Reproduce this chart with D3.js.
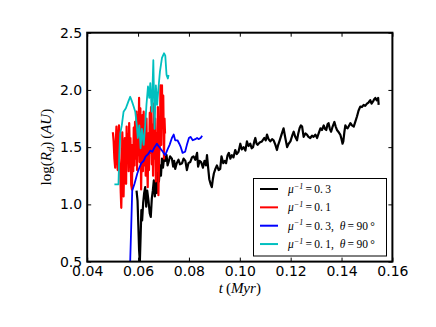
<!DOCTYPE html>
<html>
<head>
<meta charset="utf-8">
<script src="https://cdn.jsdelivr.net/npm/d3@7"></script>
<style>
  body { margin: 0; background: #fff; }
</style>
</head>
<body>
<div id="chart"></div>
<script>
// ---- data ----
var xTicks = [0.04, 0.06, 0.08, 0.10, 0.12, 0.14, 0.16];
var yTicks = [0.5, 1.0, 1.5, 2.0, 2.5];

var seriesMu = ["0.3", "0.1", "0.3", "0.1"];
var seriesTheta = [null, null, "90", "90"];
var seriesColors = ["#000000", "#ff0000", "#0000ff", "#00bfbf"];

// mu^-1 = 0.3
var blackT = [0.0594,0.0598,0.0601,0.0604,0.0607,0.0610,0.0613,0.0616,0.0620,0.0624,0.0628,0.0632,0.0636,0.0641,0.0646,0.0650,
  0.0654,0.0658,0.0662,0.0666,0.0670,0.0674,0.0678,0.0682,0.0686,0.0690,0.0694,0.0698,0.0703,0.0707,0.0712,0.0716,
  0.0720,0.0726,0.0733,0.0738,0.0742,0.0746,0.0752,0.0759,0.0765,0.0773,0.0779,0.0786,0.0792,0.0798,0.0805,0.0812,
  0.0818,0.0825,0.0832,0.0836,0.0842,0.0848,0.0855,0.0861,0.0867,0.0871,0.0876,0.0880,0.0885,0.0890,0.0894,0.0898,
  0.0904,0.0910,0.0917,0.0923,0.0928,0.0935,0.0941,0.0946,0.0952,0.0957,0.0963,0.0969,0.0975,0.0982,0.0988,0.0995,
  0.1002,0.1008,0.1015,0.1022,0.1028,0.1034,0.1041,0.1047,0.1052,0.1057,0.1061,0.1066,0.1070,0.1078,0.1087,0.1096,
  0.1102,0.1107,0.1113,0.1120,0.1127,0.1133,0.1140,0.1146,0.1151,0.1157,0.1164,0.1172,0.1179,0.1186,0.1192,0.1199,
  0.1206,0.1212,0.1218,0.1225,0.1230,0.1235,0.1240,0.1245,0.1251,0.1258,0.1264,0.1270,0.1277,0.1284,0.1290,0.1297,
  0.1304,0.1310,0.1317,0.1323,0.1330,0.1335,0.1340,0.1345,0.1349,0.1354,0.1359,0.1365,0.1372,0.1377,0.1382,0.1389,
  0.1395,0.1400,0.1404,0.1407,0.1411,0.1415,0.1420,0.1424,0.1430,0.1435,0.1441,0.1448,0.1454,0.1461,0.1467,0.1474,
  0.1480,0.1487,0.1493,0.1500,0.1506,0.1513,0.1518,0.1524,0.1529,0.1533,0.1538,0.1542,0.1544,0.1546];
var blackR = [1.12,1.03,0.82,0.60,0.50,0.72,0.95,0.86,1.01,1.10,1.15,0.98,1.12,1.03,0.92,0.89,
  1.05,1.12,1.21,1.07,1.19,1.10,1.28,1.20,1.34,1.25,1.40,1.32,1.42,1.38,1.43,1.34,
  1.37,1.42,1.40,1.33,1.38,1.31,1.36,1.39,1.35,1.36,1.40,1.38,1.30,1.36,1.37,1.41,
  1.42,1.39,1.45,1.33,1.38,1.37,1.32,1.38,1.34,1.43,1.31,1.22,1.18,1.15,1.22,1.27,
  1.31,1.34,1.30,1.31,1.42,1.36,1.38,1.36,1.43,1.45,1.40,1.43,1.41,1.475,1.44,1.46,
  1.53,1.48,1.50,1.47,1.55,1.51,1.53,1.49,1.50,1.55,1.58,1.53,1.52,1.54,1.55,1.58,
  1.56,1.61,1.57,1.55,1.57,1.56,1.52,1.475,1.52,1.56,1.61,1.665,1.58,1.50,1.53,1.55,
  1.60,1.635,1.59,1.56,1.62,1.665,1.69,1.68,1.59,1.62,1.61,1.59,1.58,1.60,1.59,1.61,
  1.58,1.62,1.665,1.65,1.69,1.66,1.65,1.70,1.71,1.66,1.635,1.68,1.72,1.68,1.65,1.63,
  1.61,1.57,1.53,1.55,1.63,1.69,1.67,1.665,1.69,1.71,1.69,1.68,1.72,1.77,1.82,1.855,
  1.85,1.87,1.86,1.88,1.89,1.91,1.88,1.90,1.92,1.93,1.91,1.92,1.93,1.87];

// mu^-1 = 0.1
var redT = [0.0501,0.0504,0.0507,0.0510,0.0512,0.0515,0.0517,0.0520,0.0522,0.0525,0.0527,0.0530,0.0532,0.0534,0.0536,0.0538,
  0.0541,0.0543,0.0545,0.0548,0.0550,0.0553,0.0555,0.0558,0.0560,0.0563,0.0565,0.0568,0.0570,0.0573,0.0576,0.0578,
  0.0581,0.0583,0.0586,0.0588,0.0591,0.0594,0.0596,0.0599,0.0601,0.0604,0.0606,0.0609,0.0612,0.0614,0.0617,0.0619,
  0.0622,0.0625,0.0627,0.0630,0.0633,0.0635,0.0638,0.0640,0.0643,0.0646,0.0648,0.0651,0.0654,0.0656,0.0659,0.0662,
  0.0664,0.0667,0.0670,0.0672,0.0675,0.0678,0.0680,0.0683,0.0686,0.0688,0.0691,0.0694,0.0696,0.0699,0.0702,0.0704,0.0706];
var redR = [1.63,1.55,1.40,1.32,1.52,1.68,1.45,1.30,1.55,1.69,1.40,1.28,1.10,0.97,1.20,1.63,
  1.43,1.07,1.30,1.58,1.23,1.18,1.68,1.37,1.61,1.29,1.71,1.43,1.58,1.17,1.13,1.52,
  1.29,1.67,1.34,1.72,1.40,1.81,1.30,1.78,1.43,1.93,1.37,1.84,1.13,1.43,1.78,1.29,
  1.81,1.34,1.70,1.25,1.75,1.40,1.15,1.62,1.30,1.80,1.45,1.85,1.35,1.70,1.25,1.88,
  1.40,1.75,1.20,1.62,1.30,1.85,1.08,1.45,1.52,2.04,1.52,2.04,1.67,1.95,1.40,1.75,1.62];

// mu^-1 = 0.3, theta = 90
var blueT = [0.0569,0.0573,0.0577,0.0586,0.0597,0.0605,0.0613,0.0622,0.0630,0.0640,0.0648,0.0656,0.0665,0.0674,0.0680,0.0687,
  0.0694,0.0700,0.0707,0.0716,0.0724,0.0733,0.0740,0.0746,0.0755,0.0762,0.0768,0.0775,0.0785,0.0792,0.0800,0.0806,
  0.0815,0.0825,0.0832,0.0838,0.0846,0.0852];
var blueR = [0.50,0.80,1.12,1.18,1.27,1.32,1.36,1.38,1.42,1.44,1.47,1.46,1.50,1.53,1.51,1.49,
  1.47,1.45,1.43,1.48,1.52,1.58,1.61,1.56,1.56,1.53,1.50,1.45,1.46,1.52,1.58,1.59,
  1.56,1.57,1.58,1.57,1.58,1.60];

// mu^-1 = 0.1, theta = 90
var cyanT = [0.0507,0.0523,0.0526,0.0530,0.0536,0.0543,0.0552,0.0562,0.0569,0.0576,0.0582,0.0589,0.0595,0.0599,0.0605,0.0610,
  0.0615,0.0622,0.0628,0.0633,0.0639,0.0644,0.0648,0.0654,0.0660,0.0665,0.0670,0.0675,0.0680,0.0686,0.0694,0.0702,
  0.0707,0.0712,0.0717,0.0720];
var cyanR = [1.175,1.175,1.43,1.62,1.69,1.81,1.84,1.90,1.94,1.90,1.86,1.81,1.69,1.58,1.69,1.49,
  1.66,1.52,1.69,1.87,2.03,1.93,2.06,1.81,2.26,1.66,2.04,1.87,2.01,2.16,2.28,2.32,
  2.30,2.13,2.10,2.13];

function init() {
  var w = 436, h = 327;
  var left = 87.2, right = 392.4, top = 32.7, bottom = 261.6;

  var x = d3.scaleLinear().domain([0.04, 0.16]).range([left, right]);
  var y = d3.scaleLinear().domain([0.5, 2.5]).range([bottom, top]);

  var svg = d3.select("#chart").append("svg")
      .attr("width", w).attr("height", h)
      .style("font-family", "'DejaVu Sans', sans-serif");

  svg.append("defs").append("clipPath").attr("id", "plotclip")
      .append("rect").attr("x", left).attr("y", top)
      .attr("width", right - left).attr("height", bottom - top);

  var series = [
    d3.zip(blackT, blackR),
    d3.zip(redT, redR),
    d3.zip(blueT, blueR),
    d3.zip(cyanT, cyanR)
  ];

  var line = d3.line()
      .x(function(d) { return x(d[0]); })
      .y(function(d) { return y(d[1]); });

  svg.append("g").attr("clip-path", "url(#plotclip)")
    .selectAll("path")
    .data(series)
    .enter().append("path")
      .attr("d", line)
      .attr("fill", "none")
      .attr("stroke", function(d, i) { return seriesColors[i]; })
      .attr("stroke-width", function(d, i) { return i < 2 ? 2.2 : 1.8; })
      .attr("stroke-linejoin", "round");

  // axes, ticks pointing inward like matplotlib classic
  var fmtX = d3.format(".2f"), fmtY = d3.format(".1f");
  function styleAxis(g) {
    g.select(".domain").remove();
    g.selectAll(".tick line").attr("stroke", "#000").attr("stroke-width", 1);
    g.selectAll(".tick text").attr("font-size", 14).attr("fill", "#000")
      .attr("font-family", "'DejaVu Sans', sans-serif");
  }
  svg.append("g").attr("transform", "translate(0," + bottom + ")")
    .call(d3.axisBottom(x).tickValues(xTicks).tickFormat(fmtX).tickSizeInner(-4).tickSizeOuter(0).tickPadding(4))
    .call(styleAxis);
  svg.append("g").attr("transform", "translate(0," + top + ")")
    .call(d3.axisTop(x).tickValues(xTicks).tickFormat("").tickSizeInner(-4).tickSizeOuter(0))
    .call(styleAxis);
  svg.append("g").attr("transform", "translate(" + left + ",0)")
    .call(d3.axisLeft(y).tickValues(yTicks).tickFormat(fmtY).tickSizeInner(-4).tickSizeOuter(0).tickPadding(5))
    .call(styleAxis);
  svg.append("g").attr("transform", "translate(" + right + ",0)")
    .call(d3.axisRight(y).tickValues(yTicks).tickFormat("").tickSizeInner(-4).tickSizeOuter(0))
    .call(styleAxis);

  svg.append("rect")
      .attr("x", left).attr("y", top)
      .attr("width", right - left).attr("height", bottom - top)
      .attr("fill", "none").attr("stroke", "#000").attr("stroke-width", 2);

  // math-ish text helper: parts = [text, style]; style: n normal, i italic, sub, sup
  function mathText(sel, parts, size) {
    parts.forEach(function(p) {
      var t = sel.append("tspan").text(p[0]);
      if (p[1] == "i" || p[1] == "sub" || p[1] == "sup") t.attr("font-style", "italic");
      if (p[1] == "sub") t.attr("font-size", size * 0.7).attr("dy", size * 0.22);
      if (p[1] == "sup") t.attr("font-size", size * 0.7).attr("dy", -size * 0.38);
      if (p[1] == "n" || p[1] == "i") {
        if (p[2]) t.attr("dy", p[2]);
      }
    });
  }

  var serif = "'Liberation Serif', 'DejaVu Serif', serif";

  var xl = svg.append("text")
      .attr("x", (left + right) / 2).attr("y", 293)
      .attr("text-anchor", "middle").attr("font-family", serif).attr("font-size", 15);
  mathText(xl, [["t", "i"], ["\u2009(", "n"], ["Myr", "i"], [")", "n"]], 15);

  var yl = svg.append("text")
      .attr("transform", "translate(51," + (top + bottom) / 2 + ") rotate(-90)")
      .attr("text-anchor", "middle").attr("font-family", serif).attr("font-size", 15);
  mathText(yl, [["log(", "n"], ["R", "i"], ["d", "sub"], [")", "n", -15 * 0.22],
                ["\u2009(", "n"], ["AU", "i"], [")", "n"]], 15);

  // legend
  var lg = svg.append("g");
  lg.append("rect")
      .attr("x", 253.5).attr("y", 178.5).attr("width", 133).attr("height", 77.5)
      .attr("fill", "#fff").attr("stroke", "#000").attr("stroke-width", 1);
  seriesColors.forEach(function(c, i) {
    var yy = 189 + i * 18.35;
    lg.append("line").attr("x1", 260).attr("x2", 278).attr("y1", yy).attr("y2", yy)
      .attr("stroke", c).attr("stroke-width", 2);
    var t = lg.append("text").attr("x", 288).attr("y", yy + 4)
      .attr("font-family", serif).attr("font-size", 11.5);
    var parts = [["\u03bc", "i"], ["\u22121", "sup"], ["\u2009=\u2009", "n", 11.5 * 0.38], [seriesMu[i].replace(".", ".\u2009"), "n"]];
    if (seriesTheta[i]) {
      parts.push([",\u2002", "n"], ["\u03b8", "i"], ["\u2009=\u2009" + seriesTheta[i] + "\u2009\u00b0", "n"]);
    }
    mathText(t, parts, 11.5);
  });
}

window.onload = init;
</script>
</body>
</html>
